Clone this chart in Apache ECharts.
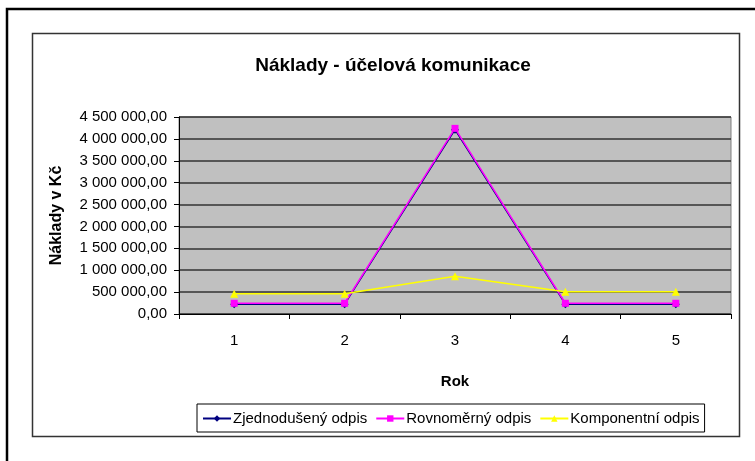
<!DOCTYPE html>
<html>
<head>
<meta charset="utf-8">
<script src="https://cdn.jsdelivr.net/npm/echarts@6/dist/echarts.min.js"></script>
<style>
  html, body { margin: 0; padding: 0; background: #fff; }
  #chart { width: 755px; height: 461px; }
</style>
</head>
<body>
<div id="chart"></div>
<script>
// hodnoty
const roky = ['1', '2', '3', '4', '5'];
const zjednoduseny = [225000, 225000, 4210000, 225000, 225000];
const rovnomerny = [245000, 245000, 4240000, 245000, 245000];
const komponentni = [460000, 460000, 860000, 510000, 510000];

const chart = echarts.init(document.getElementById('chart'));

function formatKc(v) {
    const s = Math.round(v).toString().replace(/\B(?=(\d{3})+(?!\d))/g, ' ');
    return s + ',00';
}

const font = 'Liberation Sans, Arial, sans-serif';

const option = {
    animation: false,
    textStyle: { fontFamily: font },
    title: {
        text: 'Náklady - účelová komunikace',
        left: 388, top: 51, textAlign: 'center',
        textStyle: { fontSize: 19, fontWeight: 'bold', color: '#000', fontFamily: font }
    },
    graphic: [
        { type: 'rect', shape: { x: 7, y: 9, width: 760, height: 460 },
          style: { fill: null, stroke: '#000', lineWidth: 2.5 }, silent: true },
        { type: 'rect', shape: { x: 32.5, y: 33.5, width: 707, height: 403 },
          style: { fill: null, stroke: '#333', lineWidth: 1.5 }, silent: true }
    ],
    legend: {
        data: ['Zjednodušený odpis', 'Rovnoměrný odpis', 'Komponentní odpis'],
        left: 197, top: 404, width: 520,
        itemWidth: 28, itemHeight: 8, itemGap: 8,
        padding: [7, 5, 6, 5],
        borderColor: '#000', borderWidth: 1,
        textStyle: { fontSize: 15, color: '#000', fontFamily: font, padding: [0, 0, 0, -3] }
    },
    grid: {
        left: 179, right: 24, top: 117, bottom: 147,
        show: true, backgroundColor: '#C0C0C0', borderColor: '#808080', borderWidth: 1
    },
    xAxis: {
        type: 'category',
        data: roky,
        boundaryGap: true,
        name: 'Rok', nameLocation: 'middle', nameGap: 60,
        nameTextStyle: { fontSize: 15, fontWeight: 'bold', color: '#000', fontFamily: font },
        axisLine: { lineStyle: { color: '#000', width: 1 } },
        axisTick: { show: true, length: 5, lineStyle: { color: '#000' } },
        axisLabel: { fontSize: 15, color: '#000', margin: 19, fontFamily: font },
        splitLine: { show: false }
    },
    yAxis: {
        type: 'value',
        min: 0, max: 4500000, interval: 500000,
        name: 'Náklady v Kč', nameLocation: 'middle', nameGap: 114, nameRotate: 90,
        nameTextStyle: { fontSize: 16, fontWeight: 'bold', color: '#000', fontFamily: font, letterSpacing: 1 },
        axisLine: { show: true, lineStyle: { color: '#000', width: 1 } },
        axisTick: { show: true, length: 5, lineStyle: { color: '#000' } },
        axisLabel: { fontSize: 15, color: '#000', margin: 12, formatter: formatKc, fontFamily: font },
        splitLine: { show: true, lineStyle: { color: '#333', width: 1.5 } }
    },
    series: [
        {
            name: 'Zjednodušený odpis', type: 'line', data: zjednoduseny,
            symbol: 'diamond', symbolSize: 8,
            itemStyle: { color: '#000080' },
            lineStyle: { color: '#000080', width: 1.5 }
        },
        {
            name: 'Rovnoměrný odpis', type: 'line', data: rovnomerny,
            symbol: 'rect', symbolSize: 7,
            itemStyle: { color: '#FF00FF' },
            lineStyle: { color: '#FF00FF', width: 1.5 }
        },
        {
            name: 'Komponentní odpis', type: 'line', data: komponentni,
            symbol: 'triangle', symbolSize: 8,
            itemStyle: { color: '#FFFF00' },
            lineStyle: { color: '#FFFF00', width: 1.5 }
        }
    ]
};

chart.setOption(option);
</script>
</body>
</html>
